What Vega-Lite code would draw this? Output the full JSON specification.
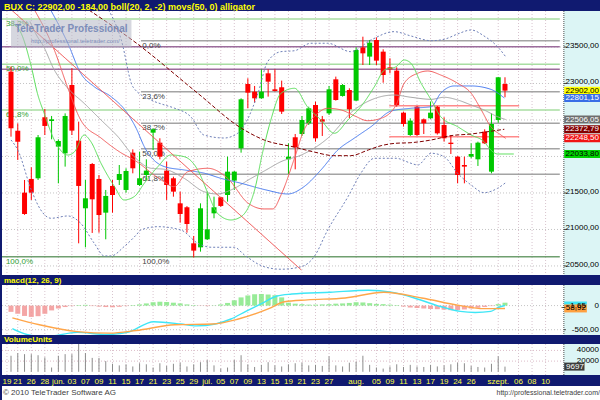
{
  "$schema": "https://vega.github.io/schema/vega-lite/v6.json",
  "background": "#101a70",
  "padding": {"left": 1, "right": 1, "top": 0, "bottom": 0},
  "spacing": 0,
  "bounds": "flush",
  "config": {
    "view": {"fill": "white", "stroke": null},
    "font": "Liberation Sans",
    "locale": {"number": {"decimal": ",", "thousands": ".", "grouping": [3], "currency": ["", ""]}}
  },
  "datasets": {
    "c": [
      {"i":0,"o":23162,"h":23230,"l":22271,"c":22386},{"i":1,"o":22354,"h":22454,"l":21952,"c":22203},
      {"i":2,"o":21504,"h":21678,"l":21200,"c":21212},{"i":3,"o":21692,"h":21852,"l":21404,"c":21504},
      {"i":4,"o":21701,"h":22294,"l":21678,"c":22263},{"i":5,"o":22537,"h":22651,"l":22294,"c":22418},
      {"i":6,"o":22486,"h":22555,"l":22235,"c":22509},{"i":7,"o":22135,"h":22235,"l":21632,"c":22212},
      {"i":8,"o":22043,"h":22591,"l":21861,"c":22555},{"i":9,"o":22979,"h":23208,"l":22294,"c":22354},
      {"i":10,"o":22217,"h":22477,"l":20810,"c":21596},{"i":11,"o":21290,"h":21678,"l":20755,"c":21427},
      {"i":12,"o":21897,"h":21910,"l":20952,"c":21413},{"i":13,"o":21692,"h":21746,"l":20956,"c":21198},
      {"i":14,"o":21230,"h":21541,"l":20865,"c":21459},{"i":15,"o":21596,"h":21678,"l":21230,"c":21472},
      {"i":16,"o":21678,"h":21883,"l":21609,"c":21760},{"i":17,"o":21541,"h":21838,"l":21504,"c":21801},
      {"i":18,"o":22052,"h":22098,"l":21769,"c":21838},{"i":19,"o":21609,"h":22066,"l":21596,"c":21701},
      {"i":20,"o":21746,"h":21961,"l":21669,"c":21806},{"i":21,"o":22326,"h":22386,"l":22089,"c":22372},
      {"i":22,"o":22189,"h":22249,"l":21961,"c":21997},{"i":23,"o":21806,"h":21929,"l":21404,"c":21609},
      {"i":24,"o":21701,"h":21723,"l":21449,"c":21518},{"i":25,"o":21358,"h":21518,"l":21093,"c":21212},
      {"i":26,"o":21304,"h":21320,"l":20956,"c":21075},{"i":27,"o":20810,"h":20911,"l":20618,"c":20710},
      {"i":28,"o":20755,"h":21358,"l":20696,"c":21290},{"i":29,"o":20865,"h":21518,"l":20856,"c":21002},
      {"i":30,"o":21221,"h":21449,"l":21153,"c":21304},{"i":31,"o":21441,"h":21449,"l":21310,"c":21322},
      {"i":32,"o":21472,"h":21997,"l":21381,"c":21792},{"i":33,"o":21669,"h":21800,"l":21541,"c":21792},
      {"i":34,"o":22112,"h":22797,"l":22052,"c":22783},{"i":35,"o":22993,"h":23071,"l":22660,"c":22874},
      {"i":36,"o":22888,"h":22966,"l":22737,"c":22797},{"i":37,"o":22797,"h":23194,"l":22790,"c":22888},
      {"i":38,"o":23139,"h":23194,"l":22820,"c":23025},{"i":39,"o":22920,"h":23194,"l":22890,"c":22897},
      {"i":40,"o":22948,"h":23039,"l":22582,"c":22614},{"i":41,"o":21961,"h":22180,"l":21760,"c":21997},
      {"i":42,"o":22263,"h":22308,"l":21824,"c":22125},{"i":43,"o":22308,"h":22555,"l":22281,"c":22500},
      {"i":44,"o":22454,"h":22682,"l":22431,"c":22660},{"i":45,"o":22705,"h":22751,"l":22203,"c":22249},
      {"i":46,"o":22509,"h":22555,"l":22281,"c":22477},{"i":47,"o":22591,"h":22966,"l":22568,"c":22920},
      {"i":48,"o":23057,"h":23094,"l":22765,"c":22774},{"i":49,"o":22829,"h":22993,"l":22820,"c":22979},
      {"i":50,"o":22911,"h":22934,"l":22523,"c":22646},{"i":51,"o":22765,"h":23495,"l":22760,"c":23459},
      {"i":52,"o":23495,"h":23641,"l":23253,"c":23413},{"i":53,"o":23368,"h":23596,"l":23253,"c":23559},
      {"i":54,"o":23596,"h":23632,"l":23253,"c":23313},{"i":55,"o":23436,"h":23468,"l":23011,"c":23116},
      {"i":56,"o":23221,"h":23345,"l":23139,"c":23194},{"i":57,"o":23176,"h":23221,"l":22682,"c":22705},
      {"i":58,"o":22600,"h":22614,"l":22409,"c":22445},{"i":59,"o":22294,"h":22523,"l":22281,"c":22491},
      {"i":60,"o":22682,"h":22692,"l":22281,"c":22294},{"i":61,"o":22509,"h":22520,"l":22308,"c":22454},
      {"i":62,"o":22523,"h":22751,"l":22515,"c":22600},{"i":63,"o":22682,"h":22692,"l":22300,"c":22317},
      {"i":64,"o":22431,"h":22537,"l":22203,"c":22249},{"i":65,"o":22189,"h":22294,"l":22034,"c":22171},
      {"i":66,"o":21997,"h":22005,"l":21632,"c":21746},{"i":67,"o":21883,"h":21997,"l":21632,"c":21861},
      {"i":68,"o":21997,"h":22180,"l":21975,"c":22034},{"i":69,"o":21961,"h":22203,"l":21870,"c":22189},
      {"i":70,"o":22340,"h":22372,"l":22171,"c":22180},{"i":71,"o":21792,"h":22591,"l":21769,"c":22445},
      {"i":72,"o":22500,"h":23090,"l":22463,"c":23085},{"i":73,"o":22993,"h":23085,"l":22811,"c":22902}
    ],
    "ind": [
      {"s":"up","i":13.8,"v":24100},{"s":"up","i":16.3,"v":23596},{"s":"up","i":18,"v":22956},{"s":"up","i":20.7,"v":22774},
      {"s":"up","i":22.7,"v":22705},{"s":"up","i":24.1,"v":22664},{"s":"up","i":26.6,"v":22541},{"s":"up","i":28.5,"v":22294},
      {"s":"up","i":31.5,"v":22253},{"s":"up","i":33.5,"v":22318},{"s":"up","i":36.5,"v":22866},{"s":"up","i":37.9,"v":23295},
      {"s":"up","i":39.9,"v":23436},{"s":"up","i":41.9,"v":23449},{"s":"up","i":44.3,"v":23551},{"s":"up","i":46.8,"v":23551},
      {"s":"up","i":50.2,"v":23436},{"s":"up","i":53.2,"v":23596},{"s":"up","i":56.6,"v":23710},{"s":"up","i":59.1,"v":23651},
      {"s":"up","i":62.1,"v":23586},{"s":"up","i":64,"v":23605},{"s":"up","i":66,"v":23678},{"s":"up","i":68,"v":23733},
      {"s":"up","i":69.9,"v":23651},{"s":"up","i":71.9,"v":23504},{"s":"up","i":73.1,"v":23367},
      {"s":"lo","i":0,"v":22226},{"s":"lo","i":1,"v":22089},{"s":"lo","i":3,"v":21541},{"s":"lo","i":4.4,"v":21267},
      {"s":"lo","i":5.9,"v":21153},{"s":"lo","i":8.4,"v":21185},{"s":"lo","i":10.3,"v":21085},{"s":"lo","i":12.3,"v":20811},
      {"s":"lo","i":13.8,"v":20637},{"s":"lo","i":14.8,"v":20637},{"s":"lo","i":16.7,"v":20764},{"s":"lo","i":18.5,"v":20924},
      {"s":"lo","i":19.2,"v":20993},{"s":"lo","i":21.7,"v":21038},{"s":"lo","i":25.1,"v":20993},{"s":"lo","i":27.6,"v":20811},
      {"s":"lo","i":29.6,"v":20756},{"s":"lo","i":33,"v":20756},{"s":"lo","i":34.5,"v":20650},{"s":"lo","i":37.4,"v":20490},
      {"s":"lo","i":39.9,"v":20455},{"s":"lo","i":42.9,"v":20490},{"s":"lo","i":44.8,"v":20627},{"s":"lo","i":46.8,"v":20993},
      {"s":"lo","i":49.8,"v":21449},{"s":"lo","i":51.7,"v":21770},{"s":"lo","i":53.7,"v":21975},{"s":"lo","i":56.9,"v":21975},
      {"s":"lo","i":59.1,"v":21907},{"s":"lo","i":60.1,"v":21883},{"s":"lo","i":62.1,"v":22044},{"s":"lo","i":64,"v":21997},
      {"s":"lo","i":66,"v":21770},{"s":"lo","i":68,"v":21609},{"s":"lo","i":69.9,"v":21504},{"s":"lo","i":71.9,"v":21564},
      {"s":"lo","i":73.1,"v":21641},
      {"s":"mid","i":2.8,"v":23850},{"s":"mid","i":3.9,"v":23641},{"s":"mid","i":4.7,"v":23527},{"s":"mid","i":6.4,"v":23185},
      {"s":"mid","i":8.4,"v":22934},{"s":"mid","i":10.8,"v":22729},{"s":"mid","i":13.3,"v":22500},{"s":"mid","i":15.8,"v":22271},
      {"s":"mid","i":18.2,"v":21997},{"s":"mid","i":20.7,"v":21838},{"s":"mid","i":22.7,"v":21824},{"s":"mid","i":25.6,"v":21700},
      {"s":"mid","i":28.5,"v":21518},{"s":"mid","i":30.5,"v":21486},{"s":"mid","i":32.5,"v":21541},{"s":"mid","i":35.5,"v":21701},
      {"s":"mid","i":37.7,"v":21815},{"s":"mid","i":39.9,"v":21929},{"s":"mid","i":42.9,"v":22020},{"s":"mid","i":46.8,"v":22249},
      {"s":"mid","i":50.7,"v":22637},{"s":"mid","i":53.2,"v":22774},{"s":"mid","i":56.6,"v":22842},{"s":"mid","i":59.1,"v":22811},
      {"s":"mid","i":62.1,"v":22783},{"s":"mid","i":64,"v":22811},{"s":"mid","i":66,"v":22774},{"s":"mid","i":68,"v":22705},
      {"s":"mid","i":69.9,"v":22637},{"s":"mid","i":71.9,"v":22545},{"s":"mid","i":73.1,"v":22506.05},
      {"s":"jaw","i":5.6,"v":24050},{"s":"jaw","i":8.4,"v":23551},{"s":"jaw","i":10.3,"v":23140},{"s":"jaw","i":12.3,"v":22956},
      {"s":"jaw","i":14.8,"v":22819},{"s":"jaw","i":17.2,"v":22592},{"s":"jaw","i":18.5,"v":22386},{"s":"jaw","i":19.7,"v":22134},
      {"s":"jaw","i":22.7,"v":21860},{"s":"jaw","i":25.6,"v":21815},{"s":"jaw","i":28.6,"v":21770},{"s":"jaw","i":31,"v":21701},
      {"s":"jaw","i":34,"v":21633},{"s":"jaw","i":37.7,"v":21541},{"s":"jaw","i":40.9,"v":21486},{"s":"jaw","i":43.3,"v":21586},
      {"s":"jaw","i":45.8,"v":21815},{"s":"jaw","i":48.3,"v":22089},{"s":"jaw","i":50.7,"v":22249},{"s":"jaw","i":53.2,"v":22408},
      {"s":"jaw","i":56.2,"v":22623},{"s":"jaw","i":59.1,"v":22660},{"s":"jaw","i":62.1,"v":22682},{"s":"jaw","i":63.5,"v":22866},
      {"s":"jaw","i":65.5,"v":22966},{"s":"jaw","i":68,"v":22966},{"s":"jaw","i":70.9,"v":22920},{"s":"jaw","i":72.9,"v":22801.15},
      {"s":"teeth","i":3.2,"v":24050},{"s":"teeth","i":6.4,"v":23459},{"s":"teeth","i":8.4,"v":22938},{"s":"teeth","i":10.3,"v":22500},
      {"s":"teeth","i":13.3,"v":22253},{"s":"teeth","i":16.3,"v":22048},{"s":"teeth","i":18.2,"v":21952},{"s":"teeth","i":22.2,"v":21678},
      {"s":"teeth","i":24.1,"v":21586},{"s":"teeth","i":26.1,"v":21790},{"s":"teeth","i":29.1,"v":21838},{"s":"teeth","i":32,"v":21701},
      {"s":"teeth","i":35,"v":21363},{"s":"teeth","i":37.4,"v":21281},{"s":"teeth","i":38.7,"v":21281},{"s":"teeth","i":39.9,"v":21472},
      {"s":"teeth","i":41.9,"v":21979},{"s":"teeth","i":43.3,"v":22363},{"s":"teeth","i":44.8,"v":22545},{"s":"teeth","i":46.8,"v":22660},
      {"s":"teeth","i":48.8,"v":22637},{"s":"teeth","i":50.8,"v":22555},{"s":"teeth","i":52.7,"v":22490},{"s":"teeth","i":54.7,"v":22523},
      {"s":"teeth","i":56.9,"v":22705},{"s":"teeth","i":58.1,"v":23003},{"s":"teeth","i":60.1,"v":23140},{"s":"teeth","i":61.6,"v":23171},
      {"s":"teeth","i":63.5,"v":23116},{"s":"teeth","i":66,"v":23003},{"s":"teeth","i":68,"v":22866},{"s":"teeth","i":69.5,"v":22637},
      {"s":"teeth","i":70.9,"v":22408},{"s":"teeth","i":72.4,"v":22294},{"s":"teeth","i":73.1,"v":22248.5},
      {"s":"lips","i":0.25,"v":23825},{"s":"lips","i":1.5,"v":23688},{"s":"lips","i":3,"v":23230},{"s":"lips","i":3.9,"v":22866},
      {"s":"lips","i":4.9,"v":22592},{"s":"lips","i":6.4,"v":22226},{"s":"lips","i":8.4,"v":22020},{"s":"lips","i":9.4,"v":22066},
      {"s":"lips","i":10.8,"v":22294},{"s":"lips","i":11.8,"v":22203},{"s":"lips","i":13.3,"v":21907},{"s":"lips","i":15.3,"v":21586},
      {"s":"lips","i":16.7,"v":21404},{"s":"lips","i":18.2,"v":21449},{"s":"lips","i":19.7,"v":21633},{"s":"lips","i":21.7,"v":21860},
      {"s":"lips","i":23.6,"v":22020},{"s":"lips","i":25.6,"v":21997},{"s":"lips","i":27.6,"v":21815},{"s":"lips","i":29.1,"v":21496},
      {"s":"lips","i":30.5,"v":21222},{"s":"lips","i":32.5,"v":21130},{"s":"lips","i":34,"v":21175},{"s":"lips","i":36,"v":21541},
      {"s":"lips","i":37.2,"v":22062},{"s":"lips","i":38.4,"v":22500},{"s":"lips","i":39.9,"v":22866},{"s":"lips","i":41.9,"v":22934},
      {"s":"lips","i":43.8,"v":22682},{"s":"lips","i":45.8,"v":22500},{"s":"lips","i":47.8,"v":22318},{"s":"lips","i":49.8,"v":22500},
      {"s":"lips","i":51.7,"v":22682},{"s":"lips","i":53.7,"v":22956},{"s":"lips","i":55.2,"v":23185},{"s":"lips","i":56.9,"v":23230},
      {"s":"lips","i":58.1,"v":23322},{"s":"lips","i":59.1,"v":23277},{"s":"lips","i":60.6,"v":23003},{"s":"lips","i":62.1,"v":22774},
      {"s":"lips","i":63.5,"v":22545},{"s":"lips","i":66,"v":22408},{"s":"lips","i":68,"v":22294},{"s":"lips","i":69.9,"v":22203},
      {"s":"lips","i":70.9,"v":22089},{"s":"lips","i":71.9,"v":22033.8},{"s":"lips","i":74.3,"v":22033.8},
      {"s":"ma","i":10.8,"v":24050},{"s":"ma","i":18.5,"v":23555},{"s":"ma","i":27.6,"v":22866},{"s":"ma","i":34,"v":22390},
      {"s":"ma","i":37.4,"v":22226},{"s":"ma","i":41.8,"v":22130},{"s":"ma","i":44.8,"v":22061},{"s":"ma","i":47.7,"v":22011},
      {"s":"ma","i":50.2,"v":22011},{"s":"ma","i":52.8,"v":22089},{"s":"ma","i":54.7,"v":22148},{"s":"ma","i":56.9,"v":22181},
      {"s":"ma","i":59.1,"v":22189},{"s":"ma","i":62.1,"v":22226},{"s":"ma","i":65,"v":22285},{"s":"ma","i":68,"v":22308},
      {"s":"ma","i":70.5,"v":22340},{"s":"ma","i":72.9,"v":22372.79},
      {"s":"tr","i":-0.2,"v":24030},{"s":"tr","i":42.9,"v":20445}
    ],
    "hl": [
      {"k":"g","v":23884,"a":-1.33,"b":81.1},{"k":"g","v":23263,"a":-1.33,"b":81.1},{"k":"g","v":22637,"a":-1.33,"b":81.1},
      {"k":"g2","v":20627,"a":-1.33,"b":81.1},
      {"k":"p","v":23504,"a":-1.33,"b":81.1},{"k":"p","v":23194,"a":-1.33,"b":81.1},
      {"k":"f","v":23586,"a":19.2,"b":81.1},{"k":"f","v":22888,"a":19.2,"b":81.1},{"k":"f","v":22456,"a":19.2,"b":81.1},
      {"k":"f","v":22106,"a":19.2,"b":81.1},{"k":"f","v":21757,"a":19.2,"b":81.1},
      {"k":"r","v":22696,"a":55.9,"b":75.1},{"k":"r","v":22271,"a":55.9,"b":75.1}
    ],
    "fl": [
      {"k":"L","x":-0.75,"v":23884,"t":"38,2%"},{"k":"L","x":-0.75,"v":23263,"t":"50,0%"},
      {"k":"L","x":-0.75,"v":22637,"t":"61,8%"},{"k":"L","x":-0.75,"v":20627,"t":"100,0%"},
      {"k":"R","x":19.4,"v":23586,"t":"0,0%"},{"k":"R","x":19.4,"v":22888,"t":"23,6%"},{"k":"R","x":19.4,"v":22456,"t":"38,2%"},
      {"k":"R","x":19.4,"v":22106,"t":"50,0%"},{"k":"R","x":19.4,"v":21757,"t":"61,8%"},{"k":"R","x":19.4,"v":20627,"t":"100,0%"}
    ],
    "vb": [
      {"s":"close","v":22902.00},{"s":"jaw","v":22801.15},{"s":"mid","v":22506.05},
      {"s":"ma","v":22372.79},{"s":"teeth","v":22248.50},{"s":"lips","v":22033.80}
    ],
    "pticks": [{"v":20500},{"v":21000},{"v":21500},{"v":23000},{"v":23500}],
    "dates": [
      {"i":-0.6,"t":"19"},{"i":1,"t":"21"},{"i":3,"t":"26"},{"i":5,"t":"28"},{"i":7,"t":"jún."},{"i":9,"t":"03"},
      {"i":11,"t":"07"},{"i":13,"t":"09"},{"i":15,"t":"11"},{"i":17,"t":"15"},{"i":19,"t":"17"},{"i":21,"t":"21"},
      {"i":23,"t":"23"},{"i":25,"t":"25"},{"i":27,"t":"29"},{"i":29,"t":"júl."},{"i":31,"t":"05"},{"i":33,"t":"07"},
      {"i":35,"t":"09"},{"i":37,"t":"13"},{"i":39,"t":"15"},{"i":41,"t":"19"},{"i":43,"t":"21"},{"i":45,"t":"23"},
      {"i":47,"t":"27"},{"i":51,"t":"aug."},{"i":54,"t":"05"},{"i":56,"t":"09"},{"i":58,"t":"11"},{"i":60,"t":"13"},
      {"i":62,"t":"17"},{"i":64,"t":"19"},{"i":66,"t":"24"},{"i":68,"t":"26"},{"i":72,"t":"szept."},{"i":75,"t":"06"},
      {"i":77,"t":"08"},{"i":79,"t":"10"}
    ],
    "mh": [
      {"i":0,"h":-130},{"i":1,"h":-170},{"i":2,"h":-215},{"i":3,"h":-235},{"i":4,"h":-220},{"i":5,"h":-170},{"i":6,"h":-100},
      {"i":7,"h":-60},{"i":8,"h":-30},{"i":9,"h":-10},{"i":10,"h":10},{"i":11,"h":15},{"i":12,"h":-10},{"i":13,"h":-20},
      {"i":14,"h":-30},{"i":15,"h":-35},{"i":16,"h":-25},{"i":17,"h":-10},{"i":18,"h":10},{"i":19,"h":25},{"i":20,"h":45},
      {"i":21,"h":70},{"i":22,"h":80},{"i":23,"h":75},{"i":24,"h":60},{"i":25,"h":45},{"i":26,"h":25},{"i":27,"h":10},
      {"i":28,"h":-5},{"i":29,"h":-10},{"i":30,"h":5},{"i":31,"h":25},{"i":32,"h":55},{"i":33,"h":110},{"i":34,"h":170},
      {"i":35,"h":210},{"i":36,"h":235},{"i":37,"h":240},{"i":38,"h":230},{"i":39,"h":215},{"i":40,"h":170},{"i":41,"h":60},
      {"i":42,"h":40},{"i":43,"h":30},{"i":44,"h":20},{"i":45,"h":20},{"i":46,"h":25},{"i":47,"h":30},{"i":48,"h":40},
      {"i":49,"h":45},{"i":50,"h":55},{"i":51,"h":70},{"i":52,"h":65},{"i":53,"h":50},{"i":54,"h":35},{"i":55,"h":30},
      {"i":56,"h":20},{"i":57,"h":10},{"i":58,"h":-20},{"i":59,"h":-40},{"i":60,"h":-50},{"i":61,"h":-60},{"i":62,"h":-70},
      {"i":63,"h":-75},{"i":64,"h":-85},{"i":65,"h":-95},{"i":66,"h":-90},{"i":67,"h":-80},{"i":68,"h":-60},{"i":69,"h":-45},
      {"i":70,"h":-30},{"i":71,"h":-10},{"i":72,"h":30},{"i":73,"h":60}
    ],
    "ml": [
      {"s":"macd","i":0.2,"v":-477},{"s":"macd","i":3,"v":-620},{"s":"macd","i":5.3,"v":-640},{"s":"macd","i":9.8,"v":-556},
      {"s":"macd","i":14.1,"v":-600},{"s":"macd","i":17.2,"v":-556},{"s":"macd","i":21.1,"v":-334},{"s":"macd","i":25.1,"v":-382},
      {"s":"macd","i":27.4,"v":-421},{"s":"macd","i":30.2,"v":-382},{"s":"macd","i":32.5,"v":-278},{"s":"macd","i":34.7,"v":-120},
      {"s":"macd","i":37,"v":39},{"s":"macd","i":39.3,"v":199},{"s":"macd","i":41.5,"v":239},{"s":"macd","i":47.2,"v":278},
      {"s":"macd","i":52.8,"v":318},{"s":"macd","i":56.2,"v":278},{"s":"macd","i":59.6,"v":158},{"s":"macd","i":63,"v":0},
      {"s":"macd","i":66.4,"v":-120},{"s":"macd","i":68.6,"v":-143},{"s":"macd","i":70.9,"v":-120},{"s":"macd","i":72,"v":-40},
      {"s":"macd","i":73,"v":1.65},
      {"s":"sig","i":0.2,"v":-254},{"s":"sig","i":4.2,"v":-398},{"s":"sig","i":9.8,"v":-540},{"s":"sig","i":14.6,"v":-572},
      {"s":"sig","i":18.5,"v":-517},{"s":"sig","i":24.2,"v":-398},{"s":"sig","i":29.8,"v":-382},{"s":"sig","i":33.6,"v":-278},
      {"s":"sig","i":38.1,"v":-64},{"s":"sig","i":40.4,"v":79},{"s":"sig","i":43.8,"v":118},{"s":"sig","i":49.4,"v":158},
      {"s":"sig","i":55.1,"v":278},{"s":"sig","i":60.7,"v":158},{"s":"sig","i":66.4,"v":0},{"s":"sig","i":69.8,"v":-64},
      {"s":"sig","i":73,"v":-58.92}
    ],
    "mvb": [{"s":"macd","v":1.65},{"s":"sig","v":-58.92}],
    "mticks": [{"v":0,"t":"0"},{"v":-500,"t":"-500,00"}],
    "vticks": [{"v":20000},{"v":40000}],
    "vol": [
      {"i":0,"n":30000},{"i":1,"n":35000},{"i":2,"n":33000},{"i":3,"n":33000},{"i":4,"n":31000},{"i":5,"n":27000},
      {"i":6,"n":8000},{"i":7,"n":30000},{"i":8,"n":33000},{"i":9,"n":33000},{"i":10,"n":52000},{"i":11,"n":35000},
      {"i":12,"n":26000},{"i":13,"n":26000},{"i":14,"n":20000},{"i":15,"n":15000},{"i":16,"n":12000},{"i":17,"n":14000},
      {"i":18,"n":10000},{"i":19,"n":16000},{"i":20,"n":14000},{"i":21,"n":8000},{"i":22,"n":16000},{"i":23,"n":11000},
      {"i":24,"n":15000},{"i":25,"n":17000},{"i":26,"n":10000},{"i":27,"n":14000},{"i":28,"n":18000},{"i":29,"n":22000},
      {"i":30,"n":12000},{"i":31,"n":6000},{"i":32,"n":8000},{"i":33,"n":22000},{"i":34,"n":31000},{"i":35,"n":14000},
      {"i":36,"n":9000},{"i":37,"n":13000},{"i":38,"n":18000},{"i":39,"n":12000},{"i":40,"n":10000},{"i":41,"n":14000},
      {"i":42,"n":16000},{"i":43,"n":17000},{"i":44,"n":12000},{"i":45,"n":13000},{"i":46,"n":11000},{"i":47,"n":29000},
      {"i":48,"n":12000},{"i":49,"n":10000},{"i":50,"n":17000},{"i":51,"n":19000},{"i":52,"n":30000},{"i":53,"n":13000},
      {"i":54,"n":8000},{"i":55,"n":6000},{"i":56,"n":10000},{"i":57,"n":14000},{"i":58,"n":9000},{"i":59,"n":13000},
      {"i":60,"n":10000},{"i":61,"n":9000},{"i":62,"n":13000},{"i":63,"n":10000},{"i":64,"n":12000},{"i":65,"n":14000},
      {"i":66,"n":17000},{"i":67,"n":16000},{"i":68,"n":11000},{"i":69,"n":9000},{"i":70,"n":8000},{"i":71,"n":15000},
      {"i":72,"n":29000},{"i":73,"n":9697}
    ]
  },
  "vconcat": [
    {
      "width": 598,
      "height": 11,
      "view": {"fill": "#101a70", "stroke": null},
      "data": {"values": [{"t": "BUX C: 22902,00 -184,00 boll(20, 2, -2) movs(50, 0) alligator"}]},
      "mark": {"type": "text", "align": "left", "baseline": "middle", "fontSize": 9, "fontWeight": "bold", "color": "#ffff00", "dx": 2, "dy": 1},
      "encoding": {
        "x": {"datum": 0, "type": "quantitative", "scale": {"domain": [0, 1]}, "axis": null},
        "y": {"datum": 0.5, "type": "quantitative", "scale": {"domain": [0, 1]}, "axis": null},
        "text": {"field": "t"}
      }
    },
    {
      "width": 598,
      "height": 264,
      "resolve": {"scale": {"color": "independent", "strokeDash": "independent", "strokeWidth": "independent"}},
      "layer": [
        {
          "data": {"values": [{"v":20500},{"v":21000},{"v":21500},{"v":22000},{"v":22500},{"v":23000},{"v":23500}]},
          "mark": {"type": "rule", "color": "#c4c4c4", "strokeDash": [1, 2]},
          "encoding": {
            "y": {"field": "v", "type": "quantitative", "scale": {"domain": [20376, 23993], "nice": false, "zero": false}, "axis": null},
            "x": {"datum": -1.33, "type": "quantitative", "scale": {"domain": [-1.33, 87.04], "padding": 0, "nice": false, "zero": false}, "axis": null},
            "x2": {"datum": 81.7}
          }
        },
        {
          "data": {"name": "dates"},
          "mark": {"type": "rule", "color": "#d8c4ce", "strokeDash": [1, 2]},
          "encoding": {"x": {"field": "i", "type": "quantitative", "axis": null}}
        },
        {
          "data": {"name": "hl"},
          "mark": {"type": "rule"},
          "encoding": {
            "y": {"field": "v", "type": "quantitative", "axis": null},
            "x": {"field": "a", "type": "quantitative", "axis": null},
            "x2": {"field": "b"},
            "color": {"field": "k", "type": "nominal", "scale": {"domain": ["g", "g2", "p", "f", "r"], "range": ["#a8dea2", "#6f9f6f", "#9c6c9c", "#a4a4a4", "#ff8a8a"]}, "legend": null},
            "strokeWidth": {"field": "k", "type": "nominal", "scale": {"domain": ["g", "g2", "p", "f", "r"], "range": [1.5, 1.5, 2, 1.5, 2]}, "legend": null}
          }
        },
        {
          "data": {"name": "fl"},
          "mark": {"type": "text", "align": "left", "baseline": "top", "dy": 1, "fontSize": 8},
          "encoding": {
            "x": {"field": "x", "type": "quantitative", "axis": null},
            "y": {"field": "v", "type": "quantitative", "axis": null},
            "text": {"field": "t"},
            "color": {"field": "k", "type": "nominal", "scale": {"domain": ["L", "R"], "range": ["#30a030", "#404040"]}, "legend": null}
          }
        },
        {
          "data": {"name": "c"},
          "mark": {"type": "rule", "strokeWidth": 1},
          "encoding": {
            "x": {"field": "i", "type": "quantitative", "axis": null},
            "y": {"field": "l", "type": "quantitative", "axis": null},
            "y2": {"field": "h"},
            "color": {"condition": {"test": "datum.c >= datum.o", "value": "#00c800"}, "value": "#ff0000"}
          }
        },
        {
          "data": {"name": "c"},
          "mark": {"type": "bar", "size": 5},
          "encoding": {
            "x": {"field": "i", "type": "quantitative", "axis": null},
            "y": {"field": "o", "type": "quantitative", "axis": null},
            "y2": {"field": "c"},
            "color": {"condition": {"test": "datum.c >= datum.o", "value": "#00c800"}, "value": "#ff0000"}
          }
        },
        {
          "data": {"name": "ind"},
          "mark": {"type": "line", "interpolate": "monotone", "clip": true},
          "encoding": {
            "x": {"field": "i", "type": "quantitative", "axis": null},
            "y": {"field": "v", "type": "quantitative", "axis": null},
            "color": {"field": "s", "type": "nominal", "legend": null,
              "scale": {"domain": ["up", "lo", "mid", "jaw", "teeth", "lips", "ma", "tr"],
                        "range": ["#6f80b8", "#6f80b8", "#a6a6a6", "#4a7cf0", "#f25c5c", "#5ade5a", "#800000", "#f04848"]}},
            "strokeDash": {"field": "s", "type": "nominal", "legend": null,
              "scale": {"domain": ["up", "lo", "mid", "jaw", "teeth", "lips", "ma", "tr"],
                        "range": [[2, 2], [2, 2], [1, 0], [1, 0], [1, 0], [1, 0], [4, 2], [1, 0]]}},
            "strokeWidth": {"field": "s", "type": "nominal", "legend": null,
              "scale": {"domain": ["up", "lo", "mid", "jaw", "teeth", "lips", "ma", "tr"],
                        "range": [1, 1, 1, 1.2, 1.2, 1.2, 2.2, 1]}}
          }
        },
        {
          "data": {"values": [{}]},
          "mark": {"type": "rect", "fill": "#b4b6c4", "opacity": 0.55},
          "encoding": {
            "x": {"datum": 0, "type": "quantitative", "axis": null},
            "x2": {"datum": 17.8},
            "y": {"datum": 23490, "type": "quantitative", "axis": null},
            "y2": {"datum": 23870}
          }
        },
        {
          "data": {"values": [{}]},
          "mark": {"type": "text", "text": "TeleTrader Professional", "fontSize": 10, "fontWeight": "bold", "color": "#7486b6", "opacity": 0.9},
          "encoding": {
            "x": {"datum": 8.9, "type": "quantitative", "axis": null},
            "y": {"datum": 23740, "type": "quantitative", "axis": null}
          }
        },
        {
          "data": {"values": [{}]},
          "mark": {"type": "text", "text": "http://professional.teletrader.com/", "fontSize": 6, "color": "#7486b6", "opacity": 0.9},
          "encoding": {
            "x": {"datum": 9.5, "type": "quantitative", "axis": null},
            "y": {"datum": 23585, "type": "quantitative", "axis": null}
          }
        },
        {
          "data": {"values": [{}]},
          "mark": {"type": "rect", "fill": "#dcf5f5"},
          "encoding": {
            "x": {"datum": 81.7, "type": "quantitative", "axis": null},
            "x2": {"datum": 87.04},
            "y": {"datum": 20376, "type": "quantitative", "axis": null},
            "y2": {"datum": 23993}
          }
        },
        {
          "data": {"values": [{}]},
          "mark": {"type": "rule", "color": "#505050", "strokeDash": [1, 1]},
          "encoding": {"x": {"datum": 81.7, "type": "quantitative", "axis": null}}
        },
        {
          "data": {"name": "pticks"},
          "mark": {"type": "rule", "color": "#404040"},
          "encoding": {
            "y": {"field": "v", "type": "quantitative", "axis": null},
            "x": {"datum": 81.7, "type": "quantitative", "axis": null},
            "x2": {"datum": 82.0}
          }
        },
        {
          "data": {"name": "pticks"},
          "mark": {"type": "text", "align": "right", "baseline": "middle", "fontSize": 8, "color": "#000000", "dy": -1},
          "encoding": {
            "y": {"field": "v", "type": "quantitative", "axis": null},
            "x": {"datum": 86.89, "type": "quantitative", "axis": null},
            "text": {"field": "v", "type": "quantitative", "format": ".2f"}
          }
        },
        {
          "data": {"name": "vb"},
          "mark": {"type": "rule", "strokeWidth": 8, "strokeCap": "butt"},
          "encoding": {
            "y": {"field": "v", "type": "quantitative", "axis": null},
            "x": {"datum": 81.75, "type": "quantitative", "axis": null},
            "x2": {"datum": 87.04},
            "color": {"field": "s", "type": "nominal", "legend": null,
              "scale": {"domain": ["close", "jaw", "mid", "ma", "teeth", "lips"], "range": ["#ffff00", "#3a6ee6", "#6e6e6e", "#840000", "#f01414", "#00d400"]}}
          }
        },
        {
          "data": {"name": "vb"},
          "mark": {"type": "text", "align": "right", "baseline": "middle", "fontSize": 8},
          "encoding": {
            "y": {"field": "v", "type": "quantitative", "axis": null},
            "x": {"datum": 86.89, "type": "quantitative", "axis": null},
            "text": {"field": "v", "type": "quantitative", "format": ".2f"},
            "color": {"field": "s", "type": "nominal", "legend": null,
              "scale": {"domain": ["close", "jaw", "mid", "ma", "teeth", "lips"], "range": ["#000000", "#ffffff", "#ffffff", "#ffffff", "#ffffff", "#000000"]}}
          }
        }
      ]
    },
    {
      "width": 598,
      "height": 10,
      "view": {"fill": "#101a70", "stroke": null},
      "data": {"values": [{"t": "macd(12, 26, 9)"}]},
      "mark": {"type": "text", "align": "left", "baseline": "middle", "fontSize": 8, "fontWeight": "bold", "color": "#ffff00", "dx": 2, "dy": 1},
      "encoding": {
        "x": {"datum": 0, "type": "quantitative", "scale": {"domain": [0, 1]}, "axis": null},
        "y": {"datum": 0.5, "type": "quantitative", "scale": {"domain": [0, 1]}, "axis": null},
        "text": {"field": "t"}
      }
    },
    {
      "width": 598,
      "height": 50,
      "resolve": {"scale": {"color": "independent"}},
      "layer": [
        {
          "data": {"values": [{"v": 0}, {"v": -500}]},
          "mark": {"type": "rule", "color": "#c4c4c4", "strokeDash": [1, 2]},
          "encoding": {
            "y": {"field": "v", "type": "quantitative", "scale": {"domain": [-610, 427], "nice": false, "zero": false}, "axis": null},
            "x": {"datum": -1.33, "type": "quantitative", "scale": {"domain": [-1.33, 87.04], "padding": 0, "nice": false, "zero": false}, "axis": null},
            "x2": {"datum": 81.7}
          }
        },
        {
          "data": {"name": "dates"},
          "mark": {"type": "rule", "color": "#d8c4ce", "strokeDash": [1, 2]},
          "encoding": {"x": {"field": "i", "type": "quantitative", "axis": null}}
        },
        {
          "data": {"name": "mh"},
          "mark": {"type": "bar", "size": 5, "opacity": 0.85},
          "encoding": {
            "x": {"field": "i", "type": "quantitative", "axis": null},
            "y": {"field": "h", "type": "quantitative", "axis": null},
            "y2": {"datum": 0},
            "color": {"condition": {"test": "datum.h >= 0", "value": "#86e886"}, "value": "#f29696"}
          }
        },
        {
          "data": {"name": "ml"},
          "mark": {"type": "line", "interpolate": "monotone", "strokeWidth": 1.4, "clip": true},
          "encoding": {
            "x": {"field": "i", "type": "quantitative", "axis": null},
            "y": {"field": "v", "type": "quantitative", "axis": null},
            "color": {"field": "s", "type": "nominal", "legend": null, "scale": {"domain": ["macd", "sig"], "range": ["#3ee6f6", "#ffa64a"]}}
          }
        },
        {
          "data": {"values": [{}]},
          "mark": {"type": "rect", "fill": "#dcf5f5"},
          "encoding": {
            "x": {"datum": 81.7, "type": "quantitative", "axis": null},
            "x2": {"datum": 87.04},
            "y": {"datum": -610, "type": "quantitative", "axis": null},
            "y2": {"datum": 427}
          }
        },
        {
          "data": {"values": [{}]},
          "mark": {"type": "rule", "color": "#505050", "strokeDash": [1, 1]},
          "encoding": {"x": {"datum": 81.7, "type": "quantitative", "axis": null}}
        },
        {
          "data": {"name": "mticks"},
          "mark": {"type": "rule", "color": "#404040"},
          "encoding": {
            "y": {"field": "v", "type": "quantitative", "axis": null},
            "x": {"datum": 81.7, "type": "quantitative", "axis": null},
            "x2": {"datum": 82.0}
          }
        },
        {
          "data": {"name": "mticks"},
          "mark": {"type": "text", "align": "right", "baseline": "middle", "fontSize": 8, "color": "#000000"},
          "encoding": {
            "y": {"field": "v", "type": "quantitative", "axis": null},
            "x": {"datum": 86.89, "type": "quantitative", "axis": null},
            "text": {"field": "t"}
          }
        },
        {
          "data": {"name": "mvb"},
          "mark": {"type": "rule", "strokeWidth": 8, "strokeCap": "butt"},
          "encoding": {
            "y": {"field": "v", "type": "quantitative", "axis": null},
            "x": {"datum": 81.75, "type": "quantitative", "axis": null},
            "x2": {"datum": 85.1},
            "color": {"field": "s", "type": "nominal", "legend": null, "scale": {"domain": ["macd", "sig"], "range": ["#40e6f6", "#ffa040"]}}
          }
        },
        {
          "data": {"name": "mvb"},
          "mark": {"type": "text", "align": "right", "baseline": "middle", "fontSize": 8, "color": "#000000"},
          "encoding": {
            "y": {"field": "v", "type": "quantitative", "axis": null},
            "x": {"datum": 84.95, "type": "quantitative", "axis": null},
            "text": {"field": "v", "type": "quantitative", "format": ".2f"}
          }
        }
      ]
    },
    {
      "width": 598,
      "height": 9,
      "view": {"fill": "#101a70", "stroke": null},
      "data": {"values": [{"t": "VolumeUnits"}]},
      "mark": {"type": "text", "align": "left", "baseline": "middle", "fontSize": 8, "fontWeight": "bold", "color": "#ffff00", "dx": 2, "dy": 0},
      "encoding": {
        "x": {"datum": 0, "type": "quantitative", "scale": {"domain": [0, 1]}, "axis": null},
        "y": {"datum": 0.5, "type": "quantitative", "scale": {"domain": [0, 1]}, "axis": null},
        "text": {"field": "t"}
      }
    },
    {
      "width": 598,
      "height": 31,
      "layer": [
        {
          "data": {"name": "vticks"},
          "mark": {"type": "rule", "color": "#dcbcc8", "strokeDash": [1, 2]},
          "encoding": {
            "y": {"field": "v", "type": "quantitative", "scale": {"domain": [-6000, 52000], "nice": false, "zero": false}, "axis": null},
            "x": {"datum": -1.33, "type": "quantitative", "scale": {"domain": [-1.33, 87.04], "padding": 0, "nice": false, "zero": false}, "axis": null},
            "x2": {"datum": 81.7}
          }
        },
        {
          "data": {"name": "dates"},
          "mark": {"type": "rule", "color": "#d8c4ce", "strokeDash": [1, 2]},
          "encoding": {"x": {"field": "i", "type": "quantitative", "axis": null}}
        },
        {
          "data": {"name": "vol"},
          "mark": {"type": "rule", "color": "#8c8c8c", "strokeWidth": 1, "clip": true},
          "encoding": {
            "x": {"field": "i", "type": "quantitative", "axis": null},
            "y": {"field": "n", "type": "quantitative", "axis": null},
            "y2": {"datum": 0}
          }
        },
        {
          "data": {"values": [{}]},
          "mark": {"type": "rect", "fill": "#dcf5f5"},
          "encoding": {
            "x": {"datum": 81.7, "type": "quantitative", "axis": null},
            "x2": {"datum": 87.04},
            "y": {"datum": -6000, "type": "quantitative", "axis": null},
            "y2": {"datum": 52000}
          }
        },
        {
          "data": {"values": [{}]},
          "mark": {"type": "rule", "color": "#505050", "strokeDash": [1, 1]},
          "encoding": {"x": {"datum": 81.7, "type": "quantitative", "axis": null}}
        },
        {
          "data": {"name": "vticks"},
          "mark": {"type": "text", "align": "right", "baseline": "middle", "fontSize": 8, "color": "#000000"},
          "encoding": {
            "y": {"field": "v", "type": "quantitative", "axis": null},
            "x": {"datum": 86.89, "type": "quantitative", "axis": null},
            "text": {"field": "v", "type": "quantitative", "format": "d"}
          }
        },
        {
          "data": {"values": [{"v": 9697}]},
          "mark": {"type": "rule", "strokeWidth": 8, "strokeCap": "butt", "color": "#3c3c3c"},
          "encoding": {
            "y": {"field": "v", "type": "quantitative", "axis": null},
            "x": {"datum": 81.75, "type": "quantitative", "axis": null},
            "x2": {"datum": 84.75}
          }
        },
        {
          "data": {"values": [{"v": 9697}]},
          "mark": {"type": "text", "align": "right", "baseline": "middle", "fontSize": 8, "color": "#ffffff"},
          "encoding": {
            "y": {"field": "v", "type": "quantitative", "axis": null},
            "x": {"datum": 84.65, "type": "quantitative", "axis": null},
            "text": {"field": "v", "type": "quantitative", "format": "d"}
          }
        }
      ]
    },
    {
      "width": 598,
      "height": 11,
      "view": {"fill": "#101a70", "stroke": null},
      "data": {"name": "dates"},
      "mark": {"type": "text", "align": "center", "baseline": "middle", "fontSize": 8, "color": "#ffff40", "dy": 1},
      "encoding": {
        "x": {"field": "i", "type": "quantitative", "scale": {"domain": [-1.33, 87.04], "padding": 0, "nice": false, "zero": false}, "axis": null},
        "y": {"datum": 0.5, "type": "quantitative", "scale": {"domain": [0, 1]}, "axis": null},
        "text": {"field": "t"}
      }
    },
    {
      "width": 598,
      "height": 14,
      "layer": [
        {
          "data": {"values": [{}]},
          "mark": {"type": "text", "text": "© 2010 TeleTrader Software AG", "align": "left", "baseline": "middle", "fontSize": 8, "color": "#404040", "dx": 1},
          "encoding": {
            "x": {"datum": 0, "type": "quantitative", "scale": {"domain": [0, 1]}, "axis": null},
            "y": {"datum": 0.5, "type": "quantitative", "scale": {"domain": [0, 1]}, "axis": null}
          }
        },
        {
          "data": {"values": [{}]},
          "mark": {"type": "text", "text": "http://professional.teletrader.com/", "align": "right", "baseline": "middle", "fontSize": 7, "color": "#404040"},
          "encoding": {
            "x": {"datum": 1, "type": "quantitative", "axis": null},
            "y": {"datum": 0.5, "type": "quantitative", "axis": null}
          }
        }
      ]
    }
  ]
}
